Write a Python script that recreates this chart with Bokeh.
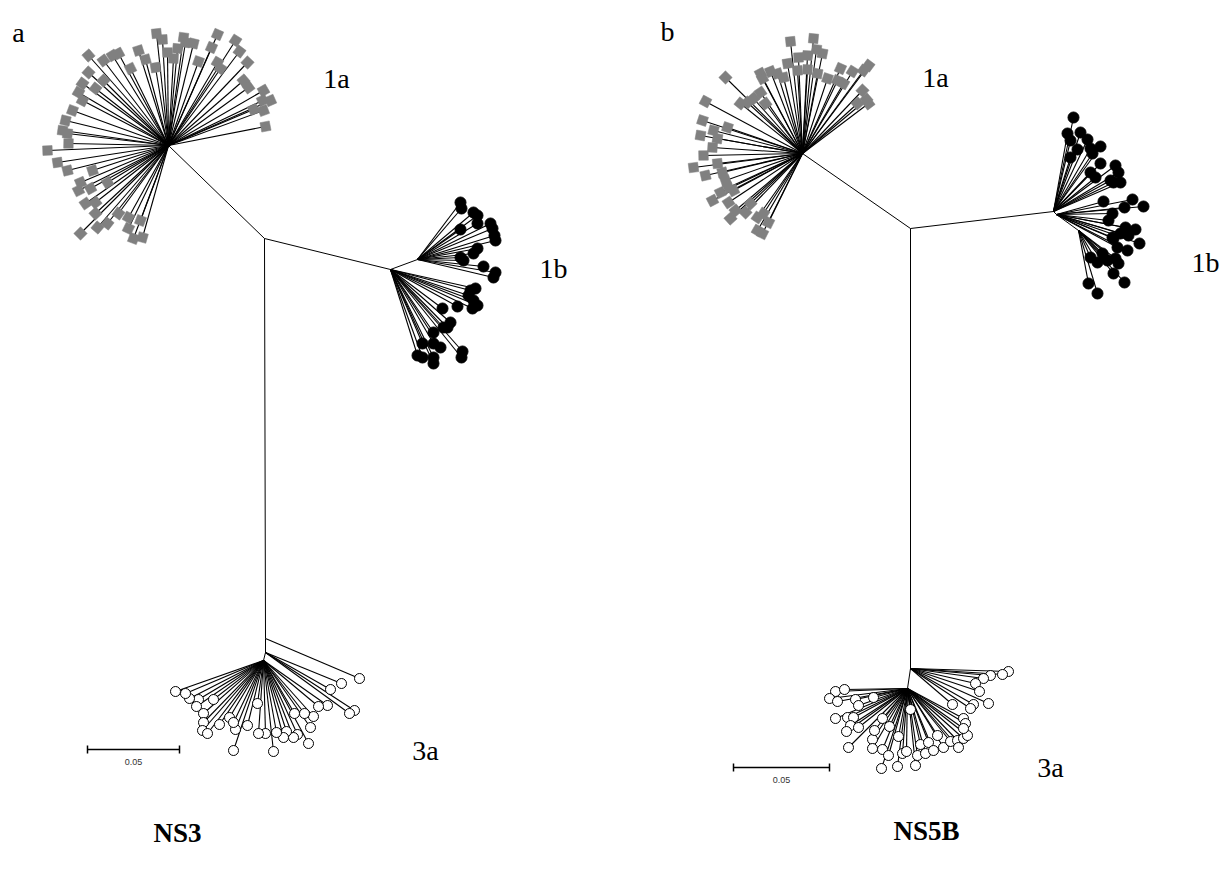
import math
from bokeh.plotting import figure
from bokeh.models import Range1d, ColumnDataSource
from bokeh.core.properties import value
from bokeh.embed import file_html
from bokeh.resources import INLINE

# ---------------- Tree layout data (unrooted trees, layout units) ----------------
# Panel a : NS3
a_nodes = {
    "root": (264, 238),
    "h1a": (168, 145),
    "h1b": (390, 269),
    "h1b_up": (417, 259),
    "s1": (265, 638),
    "s2": (265, 652),
    "h3a": (263, 660),
}
a_edges = [("root", "h1a"), ("root", "h1b"), ("h1b", "h1b_up"),
           ("root", "s1"), ("s1", "s2"), ("s2", "h3a")]

a_1a_x = [156, 162, 183, 193, 185, 217, 235, 239, 247, 211, 198, 217, 167, 177, 173, 138, 145, 155,
          263, 270, 262, 253, 263, 265, 243, 248, 220,
          88, 112, 118, 103, 130, 88, 82, 103, 95, 78, 82, 72, 65, 62, 67, 68, 47,
          57, 67, 80, 92, 78, 90, 107, 85, 95, 95, 80, 97, 107, 118, 128, 140, 128, 133, 142]
a_1a_y = [33, 39, 37, 43, 42, 34, 40, 51, 62, 47, 61, 62, 52, 48, 58, 50, 59, 67,
          90, 100, 100, 109, 110, 126, 80, 87, 68,
          55, 55, 53, 60, 68, 72, 83, 80, 88, 92, 100, 110, 120, 130, 133, 143, 150,
          162, 170, 182, 170, 190, 188, 182, 203, 202, 213, 233, 227, 223, 213, 217, 220, 228, 238, 237]

a_1b_x = [460, 461, 473, 477, 477, 460, 490, 492, 494, 495, 477, 473, 460, 463, 483, 495, 493,
          470, 475, 468, 473, 477, 472, 442, 457, 450, 447, 443, 433, 422, 433, 440, 417, 422, 433, 433, 462, 461]
a_1b_y = [202, 208, 212, 215, 223, 229, 223, 228, 235, 240, 248, 253, 257, 260, 266, 272, 277,
          290, 288, 295, 300, 305, 308, 308, 306, 322, 327, 327, 332, 343, 343, 347, 355, 357, 357, 363, 351, 357]
a_1b_parent = ["h1b_up"] * 17 + ["h1b"] * 21

a_3a_x = [359, 341, 330, 354, 349,
          327, 318, 313, 304, 294, 310, 308, 297, 293, 286, 283, 276, 265, 258, 273, 233, 257, 247, 235,
          229, 233, 219, 203, 203, 202, 207, 213, 198, 196, 189, 185, 175]
a_3a_y = [678, 683, 689, 710, 713,
          705, 706, 716, 713, 713, 727, 743, 734, 737, 731, 737, 732, 733, 733, 751, 750, 703, 725, 729,
          717, 722, 724, 713, 722, 730, 733, 699, 699, 706, 698, 693, 691]
a_3a_parent = ["s1"] + ["s2"] * 4 + ["h3a"] * 32

# Panel b : NS5B
b_nodes = {
    "root": (910, 228),
    "h1a": (802, 153),
    "h1b": (1053, 211),
    "h1b_lo": (1056, 214),
    "h1b_lo2": (1078, 230),
    "s": (910, 668),
    "h3a": (907, 688),
}
b_edges = [("root", "h1a"), ("root", "h1b"), ("h1b", "h1b_lo"), ("h1b_lo", "h1b_lo2"),
           ("root", "s"), ("s", "h3a")]

b_1a_x = [790, 813, 816, 822, 807, 798, 787, 777, 760, 770, 762, 783, 797, 807, 817, 840, 852, 868, 863,
          827, 837, 843, 862, 857, 868, 866, 725, 705, 760, 753, 747, 740, 765, 702, 700, 713, 717, 727,
          712, 703, 693, 705, 717, 722, 712, 720, 728, 733, 730, 735, 745, 750, 757, 763, 768, 757, 762, 725, 728]
b_1a_y = [41, 38, 49, 53, 55, 57, 63, 73, 73, 71, 78, 77, 70, 69, 73, 68, 71, 65, 70,
          78, 80, 83, 90, 103, 103, 99, 77, 101, 92, 98, 102, 103, 103, 120, 135, 130, 138, 127,
          147, 155, 167, 175, 163, 172, 200, 192, 202, 190, 218, 210, 212, 203, 217, 213, 222, 230, 233, 180, 187]

b_1b_x = [1073, 1067, 1080, 1070, 1087, 1100, 1090, 1077, 1092, 1070, 1100, 1115, 1118, 1090, 1095, 1110, 1120, 1113,
          1103, 1132, 1124, 1143, 1112, 1108, 1125, 1135, 1120, 1128, 1112, 1139, 1127, 1117, 1113,
          1090, 1097, 1107, 1115, 1118, 1113, 1124, 1088, 1097, 1102]
b_1b_y = [117, 133, 132, 140, 139, 146, 148, 149, 153, 157, 163, 165, 172, 172, 177, 180, 182, 182,
          201, 199, 207, 206, 213, 220, 227, 229, 233, 235, 237, 243, 250, 247, 238,
          257, 262, 260, 258, 263, 273, 282, 283, 293, 253]
b_1b_parent = ["h1b"] * 18 + ["h1b_lo"] * 15 + ["h1b_lo2"] * 10

b_3a_x = [1008, 1002, 990, 983, 975, 979, 988, 973, 970, 952,
          835, 844, 829, 837, 855, 873, 858, 835, 847, 853, 850, 858, 846, 882, 889, 848, 872, 874, 872,
          882, 888, 881, 898, 902, 906, 897, 910, 917, 915, 920, 928, 925, 933, 937, 943, 950, 957, 958,
          963, 967, 963, 965, 963]
b_3a_y = [671, 674, 675, 678, 683, 691, 703, 704, 708, 704,
          691, 689, 698, 701, 699, 697, 705, 718, 717, 717, 725, 727, 731, 718, 726, 747, 739, 730, 748,
          749, 755, 768, 736, 753, 751, 766, 709, 755, 765, 744, 742, 753, 750, 735, 747, 741, 740, 747,
          738, 735, 718, 723, 728]
b_3a_parent = ["s"] * 10 + ["h3a"] * 43

# scale bars: 0.05 substitutions per site, layout units per unit of distance
scale_value = 0.05
a_units_per_dist = 92 / 0.05
b_units_per_dist = 96 / 0.05
a_bar_origin = (87, 749)
b_bar_origin = (733, 767)

# labels
clade_labels = ["1a", "1b", "3a", "1a", "1b", "3a"]
clade_label_x = [336, 553, 425, 935, 1205, 1050]
clade_label_y = [78, 268, 750, 77, 262, 767]
panel_letters = ["a", "b"]
panel_letter_x = [18, 667]
panel_letter_y = [32, 31]
gene_titles = ["NS3", "NS5B"]
gene_title_x = [177, 926]
gene_title_y = [832, 830]

# ---------------- figure ----------------
W, H = 1224, 871
p = figure(width=W, height=H, output_backend="svg", toolbar_location=None,
           x_range=Range1d(0, W), y_range=Range1d(H, 0), min_border=0)
p.axis.visible = False
p.grid.visible = False
p.outline_line_color = None
p.background_fill_color = "white"
p.border_fill_color = "white"

LINE = "#000000"


def draw_edges(nodes, edges):
    x0 = [nodes[a][0] for a, b in edges]
    y0 = [nodes[a][1] for a, b in edges]
    x1 = [nodes[b][0] for a, b in edges]
    y1 = [nodes[b][1] for a, b in edges]
    p.segment(x0, y0, x1, y1, line_color=LINE, line_width=1)


def leaf_source(nodes, xs, ys, parents):
    px = [nodes[n][0] for n in parents]
    py = [nodes[n][1] for n in parents]
    ang = [-math.atan2(y - b, x - a) for x, y, a, b in zip(xs, ys, px, py)]
    return ColumnDataSource(dict(x0=px, y0=py, x=xs, y=ys, ang=ang))


def draw_clade(src, kind):
    p.segment("x0", "y0", "x", "y", source=src, line_color=LINE, line_width=1.1)
    if kind == "square":
        p.scatter("x", "y", source=src, marker="square", size=9.5, angle="ang",
                  fill_color="#808080", line_color="#808080", line_width=0.5)
    elif kind == "filled":
        p.scatter("x", "y", source=src, marker="circle", size=11,
                  fill_color="black", line_color="black")
    else:
        p.scatter("x", "y", source=src, marker="circle", size=10,
                  fill_color="white", line_color="black", line_width=1)


for nodes, edges, clades in [
    (a_nodes, a_edges, [(a_1a_x, a_1a_y, ["h1a"] * len(a_1a_x), "square"),
                        (a_1b_x, a_1b_y, a_1b_parent, "filled"),
                        (a_3a_x, a_3a_y, a_3a_parent, "open")]),
    (b_nodes, b_edges, [(b_1a_x, b_1a_y, ["h1a"] * len(b_1a_x), "square"),
                        (b_1b_x, b_1b_y, b_1b_parent, "filled"),
                        (b_3a_x, b_3a_y, b_3a_parent, "open")]),
]:
    draw_edges(nodes, edges)
    for xs, ys, par, kind in clades:
        draw_clade(leaf_source(nodes, xs, ys, par), kind)

# scale bars
for (ox, oy), upd in [(a_bar_origin, a_units_per_dist), (b_bar_origin, b_units_per_dist)]:
    L = scale_value * upd
    p.segment([ox, ox, ox + L], [oy, oy - 4, oy - 4], [ox + L, ox, ox + L], [oy, oy + 4, oy + 4],
              line_color="black", line_width=1.5)
    p.text([ox + L / 2], [oy + 12], text=[f"{scale_value:.2f}"], text_font=value("Liberation Sans"),
           text_font_size="9px", text_align="center", text_baseline="middle", text_color="#333333")

p.text(clade_label_x, clade_label_y, text=clade_labels, text_font=value("Liberation Serif"),
       text_font_size="28px", text_align="center", text_baseline="middle", text_color="black")
p.text(panel_letter_x, panel_letter_y, text=panel_letters, text_font=value("Liberation Serif"),
       text_font_size="28px", text_align="center", text_baseline="middle", text_color="black")
p.text(gene_title_x, gene_title_y, text=gene_titles, text_font=value("Liberation Serif"),
       text_font_size="27px", text_font_style="bold", text_align="center", text_baseline="middle",
       text_color="black")

open("out.html", "w").write(file_html(p, INLINE))
